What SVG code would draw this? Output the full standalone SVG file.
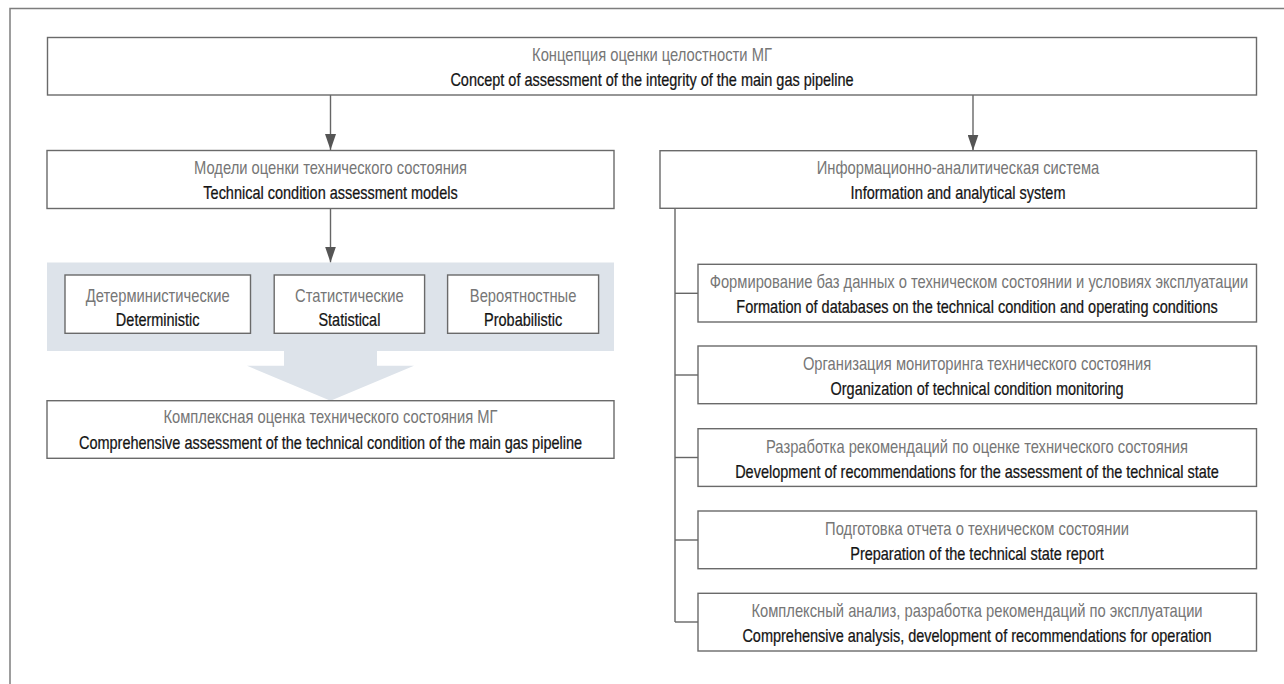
<svg xmlns="http://www.w3.org/2000/svg" width="1284" height="684" viewBox="0 0 1284 684">
<defs>
<style>
.frame{fill:none;stroke:#7d7d7d;stroke-width:1.5}
.box{fill:#fff;stroke:#6a6a6a;stroke-width:1.4}
.panel{fill:#dde3ea}
.conn{fill:none;stroke:#666;stroke-width:1.4}
text{font-family:"Liberation Sans",Arial,sans-serif;font-size:18px;text-anchor:middle}
.ru{fill:#767676}
.en{fill:#141414;stroke:#141414;stroke-width:0.25}
</style>
<marker id="ah" viewBox="0 0 16 11" refX="16" refY="5.5" markerWidth="16" markerHeight="11" markerUnits="userSpaceOnUse" orient="auto">
<path d="M0,0 L16,5.5 L0,11 z" fill="#555"/>
</marker>
</defs>
<rect x="10" y="8.5" width="1300" height="700" class="frame"/>

<g id="connectors">
<line class="conn" x1="330.5" y1="95" x2="330.5" y2="150" marker-end="url(#ah)"/>
<line class="conn" x1="973" y1="95" x2="973" y2="150.5" marker-end="url(#ah)"/>
<line class="conn" x1="330.5" y1="208.5" x2="330.5" y2="262.5" marker-end="url(#ah)"/>
<line class="conn" x1="675" y1="208.5" x2="675" y2="622"/>
<line class="conn" x1="675" y1="293.3" x2="698" y2="293.3"/>
<line class="conn" x1="675" y1="375" x2="698" y2="375"/>
<line class="conn" x1="675" y1="457.5" x2="698" y2="457.5"/>
<line class="conn" x1="675" y1="540" x2="698" y2="540"/>
<line class="conn" x1="675" y1="622" x2="698" y2="622"/>
</g>

<g id="top">
<rect class="box" x="47.5" y="37.5" width="1209" height="57.5"/>
<text class="ru" transform="translate(652,61) scale(0.82,1)">Концепция оценки целостности МГ</text>
<text class="en" transform="translate(652,86) scale(0.805,1)">Concept of assessment of the integrity of the main gas pipeline</text>
</g>

<g id="models">
<rect class="box" x="47" y="150.5" width="567" height="58"/>
<text class="ru" transform="translate(330.5,174) scale(0.82,1)">Модели оценки технического состояния</text>
<text class="en" transform="translate(330.5,199) scale(0.805,1)">Technical condition assessment models</text>
</g>

<g id="panel">
<rect class="panel" x="47" y="262.5" width="567" height="88.5"/>
<polygon class="panel" points="284,350 377,350 377,365.7 414,365.7 330.5,400.7 247,365.7 284,365.7"/>
</g>

<g id="deterministic">
<rect class="box" x="65" y="275" width="185.5" height="58.3"/>
<text class="ru" transform="translate(157.7,301.5) scale(0.82,1)">Детерминистические</text>
<text class="en" transform="translate(157.7,325.5) scale(0.805,1)">Deterministic</text>
</g>
<g id="statistical">
<rect class="box" x="274.2" y="275" width="150.4" height="58.3"/>
<text class="ru" transform="translate(349.4,301.5) scale(0.82,1)">Статистические</text>
<text class="en" transform="translate(349.4,325.5) scale(0.805,1)">Statistical</text>
</g>
<g id="probabilistic">
<rect class="box" x="447.6" y="275" width="151" height="58.3"/>
<text class="ru" transform="translate(523.1,301.5) scale(0.82,1)">Вероятностные</text>
<text class="en" transform="translate(523.1,325.5) scale(0.805,1)">Probabilistic</text>
</g>

<g id="complex">
<rect class="box" x="47" y="400.7" width="567" height="57.6"/>
<text class="ru" transform="translate(330.5,423) scale(0.82,1)">Комплексная оценка технического состояния МГ</text>
<text class="en" transform="translate(330.5,448.5) scale(0.805,1)">Comprehensive assessment of the technical condition of the main gas pipeline</text>
</g>

<g id="ias">
<rect class="box" x="660" y="150.7" width="596.5" height="57.6"/>
<text class="ru" transform="translate(958,174) scale(0.82,1)">Информационно-аналитическая система</text>
<text class="en" transform="translate(958,199) scale(0.805,1)">Information and analytical system</text>
</g>

<g id="db">
<rect class="box" x="698" y="264.3" width="558.5" height="57.7"/>
<text class="ru" transform="translate(979,288.3) scale(0.82,1)">Формирование баз данных о техническом состоянии и условиях эксплуатации</text>
<text class="en" transform="translate(977,313.3) scale(0.805,1)">Formation of databases on the technical condition and operating conditions</text>
</g>
<g id="monitoring">
<rect class="box" x="698" y="346" width="558.5" height="57.7"/>
<text class="ru" transform="translate(977,370) scale(0.82,1)">Организация мониторинга технического состояния</text>
<text class="en" transform="translate(977,395) scale(0.805,1)">Organization of technical condition monitoring</text>
</g>
<g id="recommendations">
<rect class="box" x="698" y="428.7" width="558.5" height="57.7"/>
<text class="ru" transform="translate(977,452.7) scale(0.82,1)">Разработка рекомендаций по оценке технического состояния</text>
<text class="en" transform="translate(977,477.7) scale(0.805,1)">Development of recommendations for the assessment of the technical state</text>
</g>
<g id="report">
<rect class="box" x="698" y="511" width="558.5" height="57.7"/>
<text class="ru" transform="translate(977,535) scale(0.82,1)">Подготовка отчета о техническом состоянии</text>
<text class="en" transform="translate(977,560) scale(0.805,1)">Preparation of the technical state report</text>
</g>
<g id="analysis">
<rect class="box" x="698" y="593.3" width="558.5" height="57.7"/>
<text class="ru" transform="translate(977,617.3) scale(0.82,1)">Комплексный анализ, разработка рекомендаций по эксплуатации</text>
<text class="en" transform="translate(977,642.3) scale(0.805,1)">Comprehensive analysis, development of recommendations for operation</text>
</g>
</svg>
